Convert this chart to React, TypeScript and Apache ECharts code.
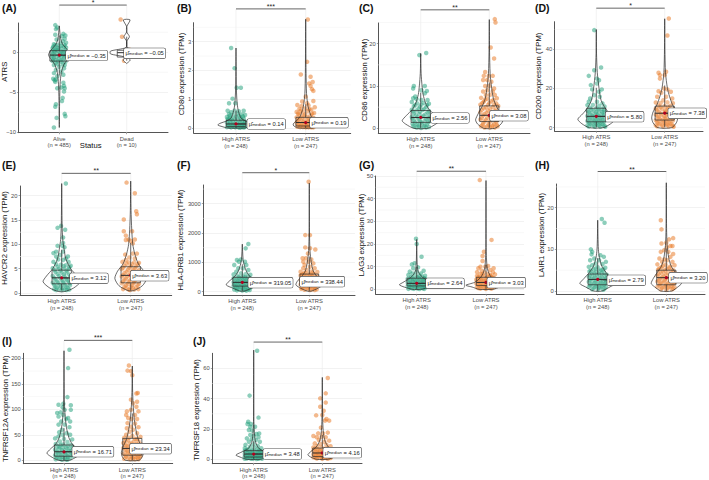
import React, { useEffect, useRef } from "react";
import * as echarts from "echarts";

type P = [number, number];
const GREEN = "#1b9e77";
const ORANGE = "#e8731c";
const FONT = "'Liberation Sans', Arial, sans-serif";

// points: [horizontal jitter in hundredths of a category step, value]
const aHigh: P[] = [[-6,3.4],[-3,3.1],[-5,2.9],[6,2.3],[9,2.1],[4,2],[-6,2.2],[8,1.7],[-4,1.6],[5,1.4],[10,1.2],[-8,1],[2,1.1],[-3,.9],[7,.7],[-10,.5],[-6,.4],[3,.5],[9,.3],[-11,.1],[-2,.2],[5,0],[10,-.2],[-7,-.3],[0,-.4],[-4,-.6],[7,-.7],[-9,-.9],[2,-1],[9,-1.2],[-5,-1.3],[5,-1.5],[-8,-1.6],[0,-1.8],[7,-2],[-5,-2.2],[3,-2.4],[-8,-2.6],[6,-2.8],[-3,-3],[-9,-3.3],[-7,-3.5],[-5,-3.4],[-6,-3.7],[6,-3.8],[7,-4.2],[8,-4.5],[3,-4.4],[-3,-4.5],[7,-4.9],[5,-5.7],[4,-6.1],[-5,-6.5],[-6,-6.8],[8,-7.7],[9,-8],[-4,-8.2],[-8,-9.4],[-10,-.6],[-6,.9],[6,-.3],[-2,-1.1],[-8,.2],[3,.1],[-11,-.4],[10,.6],[-4,.3],[-9,.7],[-3,.6],[3,.8],[8,.9],[-7,.1],[1,-.1],[7,.1],[-10,-.2],[-4,-.2],[3,-.5],[9,-.5],[-8,-.7],[-1,-.8],[5,-.9],[-10,-1.1],[-3,-1.5],[3,-1.2],[8,-1.6],[-6,-1],[1,-.3],[-1,.5]];
const aLow: P[] = [[-9,4.1],[-7,1.95],[-4,-1.05],[3,-.2],[-3,.1],[5,.3],[-2,-.4],[2,-.1]];
const bHigh: P[] = [[-7,2.78],[-2,2.08],[1,1.4],[7,1.4],[-5,1.02],[-10,.86],[-1,.86],[-12,.6],[-7,.55],[-2,.6],[4,.58],[11,.6],[-10,.48],[-4,.45],[2,.5],[8,.47],[13,.45],[-13,.38],[-8,.35],[0,.38],[6,.36],[11,.33],[-11,.27],[-5,.25],[3,.27],[9,.24],[13,.22],[-13,.18],[-8,.15],[-2,.16],[5,.15],[11,.13],[-11,.08],[-5,.07],[1,.08],[8,.06],[13,.05],[-13,.03],[-7,.02],[-1,.02],[5,.01],[10,.02],[-9,.42],[-2,.32],[4,.42],[10,.4],[-12,.31],[-6,.3],[7,.3],[-8,.22],[0,.21],[6,.2],[12,.18],[-11,.13],[-4,.12],[3,.11],[9,.1],[-9,.04],[-3,.04],[3,.03],[7,.02],[12,.02]];
const bLow: P[] = [[3,3.77],[2,2.3],[-7,1.86],[7,1.78],[10,1.6],[5,1.55],[7,1.46],[9,1.35],[11,1.29],[0,1.09],[11,.94],[-5,.92],[2,.86],[-12,.8],[-6,.76],[4,.78],[13,.72],[-9,.66],[-1,.68],[8,.64],[-13,.56],[-4,.55],[3,.58],[12,.52],[-9,.46],[-1,.47],[7,.44],[-13,.37],[-5,.36],[2,.38],[11,.35],[-10,.28],[-2,.27],[6,.26],[13,.24],[-13,.18],[-6,.17],[1,.18],[9,.15],[-11,.1],[-3,.09],[5,.08],[12,.07],[-8,.03],[0,.02],[8,.02],[-7,.6],[5,.65],[-11,.5],[-3,.42],[9,.5],[-8,.32],[4,.32],[10,.28],[-12,.24],[-4,.22],[3,.23],[8,.21],[-9,.14],[-1,.13],[4,.13],[11,.12],[-7,.08],[1,.06],[7,.05],[-12,.04],[-4,.03],[4,.02],[11,.02]];
const cHigh: P[] = [[8,17.8],[-2,17.3],[-10,10],[-11,9.4],[6,10],[1,9],[9,8.8],[6,8.3],[-8,7.5],[-11,7.1],[-6,6.9],[10,6.7],[1,6.7],[-13,6.2],[-5,5.9],[4,6],[12,5.8],[-10,5.2],[-1,5.1],[8,5],[-13,4.4],[-6,4.2],[3,4.3],[12,4.1],[-10,3.5],[-2,3.4],[7,3.3],[-13,2.7],[-5,2.6],[2,2.7],[11,2.5],[-10,1.9],[-1,1.8],[6,1.8],[13,1.7],[-12,1.1],[-5,1],[2,1.1],[9,.9],[-9,.4],[-2,.3],[5,.4],[12,.3],[-8,5.5],[1,5.6],[9,5.5],[-3,4.7],[5,4.6],[-11,4],[-1,3.9],[10,3.8],[-7,3.1],[4,3],[13,3.1],[-12,2.3],[-3,2.1],[8,2.2],[-8,1.4],[1,1.4],[11,1.4],[-3,.7],[6,.7],[-11,.6],[8,.2],[-6,.2],[1,.1]];
const cLow: P[] = [[8,25.8],[9,25],[2,19.1],[7,16.5],[-6,13.3],[-8,12.4],[-1,12.4],[5,12.4],[-3,11.4],[-9,11.4],[3,11],[-6,10],[0,10],[7,9.4],[-3,9],[-9,8.7],[5,8.7],[-5,7.9],[1,7.9],[8,7.9],[-12,7.2],[-3,7],[11,7.1],[-8,6.3],[3,6.4],[-13,5.6],[-2,5.5],[7,5.6],[13,5.3],[-8,4.7],[1,4.6],[10,4.5],[-13,3.8],[-4,3.7],[5,3.8],[-9,3],[0,2.9],[9,2.9],[13,2.8],[-13,2.1],[-5,2],[3,2.1],[11,1.9],[-9,1.2],[-1,1.1],[7,1.1],[-12,.5],[-4,.4],[4,.4],[12,.5],[-6,6.8],[6,6.7],[-10,6],[0,6],[10,5.9],[-5,5],[5,5],[-11,4.4],[-2,4.2],[8,4.1],[-7,3.4],[2,3.4],[11,3.4],[-11,2.5],[-3,2.5],[6,2.4],[-7,1.6],[1,1.6],[10,1.5],[-10,.8],[-1,.7],[5,.7],[11,.8],[-7,.2],[1,.2],[8,.2]];
const dHigh: P[] = [[-3,49.7],[7,30.7],[-11,26.4],[-3,29.3],[1,25],[4,24.2],[-8,21.7],[1,22.5],[-6,19.5],[8,19.5],[4,18.3],[-9,14.9],[-3,16.6],[5,15.8],[1,13.2],[-11,13.2],[9,12.4],[-13,11.5],[-5,11.6],[4,11.2],[12,10.8],[-9,10],[0,9.8],[8,9.6],[-13,8.7],[-4,8.6],[4,8.4],[12,8.2],[-9,7.3],[0,7.1],[8,7.1],[-13,6],[-5,5.9],[4,5.8],[12,5.7],[-9,4.6],[0,4.5],[8,4.5],[-13,3.4],[-4,3.3],[4,3.3],[12,3.1],[-9,2.2],[0,2.1],[8,2],[-13,1.2],[-4,1],[4,1.1],[12,.9],[-7,9.2],[3,9.3],[11,9.1],[-11,7.9],[-1,7.8],[9,7.9],[-6,6.5],[2,6.6],[11,6.4],[-11,5.2],[-2,5.2],[6,5.1],[-6,4],[2,3.9],[10,3.9],[-11,2.8],[-2,2.7],[6,2.7],[-7,1.6],[2,1.5],[10,1.6],[-11,.6],[-2,.5],[6,.5],[13,.5]];
const dLow: P[] = [[6,55.6],[4,47],[-9,28],[2,28.5],[-7,26.8],[0,26.8],[-7,25],[-9,18.6],[-1,20],[9,18.3],[4,19.5],[-5,17.8],[11,14.9],[-11,15.8],[2,15.8],[-2,14],[-13,12.8],[-6,12.6],[4,12.9],[12,12.5],[-9,11.2],[0,11],[8,11.1],[-13,9.7],[-4,9.6],[4,9.4],[13,9.3],[-9,8.1],[0,8],[9,7.9],[-13,6.7],[-5,6.6],[4,6.5],[12,6.4],[-9,5.2],[0,5.1],[8,5],[-13,3.8],[-4,3.8],[4,3.7],[12,3.6],[-9,2.5],[0,2.4],[8,2.3],[-13,1.3],[-4,1.2],[4,1.2],[12,1],[-6,10.4],[5,10.3],[-11,9],[1,8.8],[10,8.8],[-6,7.3],[3,7.2],[12,7.2],[-11,6],[-1,5.9],[8,5.8],[-7,4.5],[2,4.4],[11,4.4],[-11,3.1],[-2,3.1],[6,3],[-7,1.9],[2,1.8],[10,1.8],[-11,.7],[-2,.6],[6,.7],[13,.5]];
const eHigh: P[] = [[6,22.5],[-6,13.4],[-1,13.8],[5,13],[2,11.4],[2,10.3],[-6,9.7],[1,9.7],[4,9.4],[-8,8.5],[2,8.5],[-12,8.2],[-2,7.8],[-8,7.5],[9,7.5],[6,7.1],[-5,6.9],[2,6.8],[10,6.4],[-12,6.4],[-8,5.9],[-1,5.8],[6,5.7],[13,5.6],[-13,5.1],[-4,5],[3,5],[10,4.9],[-9,4.3],[0,4.2],[7,4.2],[-13,3.5],[-4,3.5],[4,3.4],[12,3.4],[-9,2.8],[0,2.7],[8,2.6],[-13,2.1],[-5,2.1],[3,2],[12,2],[-9,1.4],[-1,1.4],[7,1.3],[-11,.8],[-4,.8],[4,.7],[11,.7],[-6,5.4],[3,5.5],[11,5.3],[-10,4.7],[-2,4.6],[7,4.6],[-6,3.9],[3,3.8],[11,3.8],[-11,3.1],[-2,3.1],[6,3],[-7,2.4],[2,2.3],[10,2.4],[-11,1.7],[-3,1.7],[5,1.6],[12,1.6],[-7,1.1],[1,1],[9,1],[-8,.6],[0,.6],[7,.6]];
const eLow: P[] = [[-6,22.7],[6,20.5],[8,16.8],[9,16.2],[-10,15.1],[-10,12.7],[2,12.7],[-7,11.8],[-3,11],[6,11],[-7,10.9],[0,10.7],[3,10.2],[-8,7.9],[3,8.1],[9,8.1],[-2,7.3],[6,7.1],[-7,6.8],[-12,6.4],[-3,6.3],[5,6.3],[12,6.2],[-9,5.6],[0,5.5],[8,5.5],[-13,4.9],[-4,4.8],[4,4.8],[12,4.7],[-9,4.1],[0,4.1],[8,4],[-13,3.4],[-5,3.4],[3,3.3],[12,3.3],[-9,2.7],[-1,2.6],[7,2.6],[-13,2],[-4,1.9],[4,2],[12,1.9],[-9,1.3],[0,1.3],[8,1.2],[-11,.8],[-3,.7],[5,.7],[11,.8],[-6,6],[2,5.9],[10,5.9],[-11,5.2],[-2,5.2],[6,5.1],[-6,4.4],[2,4.4],[10,4.4],[-11,3.7],[-2,3.7],[6,3.7],[-7,3],[1,3],[9,2.9],[-11,2.4],[-3,2.3],[5,2.3],[-7,1.6],[2,1.6],[10,1.6],[-6,1],[3,1],[-1,.6]];
const fHigh: P[] = [[9,1625],[5,1477],[-2,1100],[-8,1080],[-5,1020],[4,1020],[-12,910],[6,910],[-6,800],[1,800],[9,740],[-9,680],[-2,625],[-13,590],[5,600],[12,580],[-7,530],[1,520],[9,510],[-13,460],[-3,455],[5,450],[12,440],[-8,390],[1,385],[9,375],[-13,325],[-4,320],[4,315],[12,310],[-9,260],[0,255],[8,250],[-13,200],[-5,195],[3,190],[12,185],[-9,135],[0,130],[8,125],[-12,75],[-4,70],[4,65],[11,60],[-5,490],[4,490],[-10,420],[-1,415],[7,410],[-6,355],[3,350],[11,345],[-11,290],[-2,285],[6,280],[-7,230],[2,225],[10,220],[-11,165],[-3,160],[5,155],[12,150],[-7,100],[2,95],[9,90],[-8,45],[0,40],[6,35]];
const fLow: P[] = [[-1,3750],[1,1930],[-6,1930],[-6,1510],[1,1480],[9,1440],[-2,1300],[-10,1140],[-5,1140],[3,1100],[-9,1020],[-1,1020],[6,965],[-7,910],[1,850],[8,800],[-9,800],[-4,740],[-13,680],[3,690],[12,670],[-8,620],[-1,610],[7,600],[-13,550],[-4,540],[4,530],[12,520],[-9,470],[0,460],[8,450],[-13,395],[-5,390],[3,380],[12,370],[-9,320],[0,310],[8,300],[-13,245],[-4,240],[4,235],[12,225],[-9,170],[0,165],[8,155],[-12,100],[-4,95],[4,85],[11,80],[-6,640],[5,650],[-11,580],[1,570],[-6,500],[3,495],[10,490],[-11,430],[-2,425],[6,420],[-6,355],[2,350],[10,345],[-11,285],[-2,280],[6,275],[-7,205],[2,200],[10,195],[-11,135],[-2,130],[6,125],[-7,65],[1,60],[8,55]];
const gHigh: P[] = [[-1,22.3],[0,20],[7,14.4],[-3,11.5],[-7,11],[2,9.7],[-5,9.3],[10,8.2],[-10,7.8],[0,7.8],[6,7],[-6,7],[-12,6.3],[-2,6.2],[4,6.1],[12,6],[-8,5.4],[1,5.3],[8,5.3],[-13,4.6],[-4,4.5],[5,4.5],[13,4.4],[-9,3.8],[0,3.7],[9,3.7],[-13,3],[-5,3],[4,2.9],[12,2.9],[-9,2.2],[0,2.2],[8,2.1],[-13,1.5],[-4,1.5],[4,1.4],[12,1.4],[-9,.8],[0,.8],[8,.7],[-12,.2],[-4,.2],[4,.1],[11,.2],[-6,5],[3,5],[11,4.9],[-10,4.2],[-2,4.1],[7,4.1],[-6,3.4],[2,3.3],[10,3.3],[-11,2.6],[-2,2.6],[6,2.5],[-7,1.9],[2,1.8],[10,1.8],[-11,1.1],[-2,1.1],[6,1],[13,1],[-7,.5],[1,.4],[9,.4]];
const gLow: P[] = [[-9,48.2],[8,21.8],[-3,16.6],[-5,14.7],[-5,12.5],[-8,10],[-1,10],[3,10.3],[11,9.3],[-11,9.3],[-6,8.2],[6,8.5],[-13,7.6],[-2,7.4],[10,7.5],[-8,6.8],[3,6.7],[13,6.6],[-13,5.9],[-4,5.8],[7,5.8],[-9,5],[0,5],[11,4.9],[-14,4.2],[-5,4.1],[4,4.1],[13,4],[-10,3.4],[-1,3.3],[8,3.3],[-14,2.6],[-5,2.5],[3,2.5],[12,2.5],[-9,1.8],[0,1.7],[8,1.7],[-13,1],[-4,1],[4,.9],[12,1],[-8,.3],[0,.2],[8,.3],[-5,6.5],[6,6.2],[-11,5.4],[2,5.5],[9,5.2],[-7,4.5],[1,4.5],[9,4.4],[-12,3.7],[-3,3.7],[6,3.6],[-8,2.9],[1,2.9],[10,2.9],[-12,2.1],[-3,2.1],[6,2],[13,1.9],[-7,1.3],[2,1.3],[10,1.3],[-11,.6],[-2,.6],[6,.6]];
const hHigh: P[] = [[6,17.3],[10,16.4],[-10,10],[-8,9.4],[-9,8.8],[4,8.6],[9,8.2],[-5,7.8],[-11,7.4],[2,7.4],[12,7],[-3,6.6],[7,6.5],[-8,6.2],[-13,5.8],[0,5.7],[11,5.6],[-6,5.2],[5,5.1],[-12,4.7],[-2,4.6],[9,4.5],[-8,4.1],[2,4],[13,3.9],[-13,3.4],[-4,3.4],[6,3.3],[-9,2.9],[1,2.8],[11,2.7],[-13,2.2],[-4,2.2],[5,2.1],[13,2.1],[-9,1.6],[0,1.6],[9,1.5],[-13,1],[-4,1],[4,.9],[12,1],[-8,.4],[0,.4],[8,.3],[-3,5.4],[8,5.2],[-10,4.9],[3,4.8],[-5,4.3],[6,4.2],[-11,3.7],[-1,3.7],[10,3.6],[-6,3.1],[4,3.1],[12,3],[-11,2.5],[-2,2.5],[8,2.4],[-6,1.9],[3,1.9],[11,1.8],[-11,1.3],[-2,1.3],[6,1.2],[-6,.7],[2,.7],[10,.6]];
const hLow: P[] = [[-8,17],[-7,14.8],[10,12.7],[4,12.4],[-7,11.4],[0,11.6],[6,10.8],[9,10.8],[1,10.5],[-3,9.8],[-8,9.4],[3,9.4],[10,8.9],[6,8.2],[-10,7.8],[-3,7.6],[1,7.4],[-6,7],[9,7],[-13,6.4],[-1,6.3],[12,6.2],[-7,5.7],[4,5.6],[-12,5.1],[-2,5],[10,5],[-8,4.4],[2,4.3],[13,4.3],[-13,3.7],[-4,3.6],[7,3.6],[-9,3],[0,3],[11,2.9],[-13,2.3],[-4,2.3],[5,2.2],[13,2.2],[-9,1.7],[0,1.6],[9,1.6],[-13,1],[-4,1],[4,1],[12,.9],[-8,.4],[0,.3],[8,.4],[-5,6],[6,5.9],[-10,5.4],[1,5.3],[7,4.9],[-5,4.7],[-11,4.1],[-1,4],[9,4],[-6,3.3],[4,3.3],[12,3.2],[-11,2.6],[-2,2.6],[7,2.5],[-7,2],[3,1.9],[11,1.9],[-10,1.3],[-1,1.3],[7,1.2],[-6,.7],[2,.7],[10,.6]];
const iHigh: P[] = [[8,217],[6,181],[5,124],[10,108],[-8,109],[-1,111],[-2,104],[1,99],[10,99],[-10,93],[-5,94],[-1,89],[-8,86],[6,83],[3,81],[9,76],[-4,76],[1,70],[-8,70],[8,65],[-3,60],[-7,55],[4,53],[-2,50],[9,50],[-8,47],[-13,43],[0,42],[12,41],[-6,37],[5,36],[-12,32],[-1,31],[10,30],[-7,26],[3,25],[13,25],[-13,21],[-3,20],[7,19],[-9,15],[1,15],[11,14],[-13,10],[-4,10],[5,9],[13,9],[-8,5],[1,4],[9,4],[-12,2],[-3,1],[5,1],[-5,30],[5,28],[-10,27],[-2,25],[8,23],[-7,22],[2,20],[11,19],[-11,17],[-3,16],[5,15],[13,15],[-7,12],[2,11],[10,11],[-11,7],[-2,7],[6,6],[-6,3],[3,2]];
const iLow: P[] = [[-5,186],[-7,176],[-2,175],[0,167],[8,132],[6,131],[-2,119],[7,115],[1,112],[-8,96],[6,105],[-2,99],[9,96],[-9,89],[4,89],[-6,83],[-1,81],[7,81],[-7,73],[4,72],[-2,66],[9,65],[-8,63],[1,60],[-4,56],[7,53],[-9,50],[0,48],[12,46],[-12,44],[4,42],[-6,39],[9,37],[-13,34],[-1,33],[13,31],[-8,28],[4,27],[-13,24],[-3,22],[9,21],[-8,18],[1,17],[13,16],[-13,13],[-4,12],[6,11],[12,9],[-9,7],[0,6],[8,5],[-12,3],[-3,2],[4,2],[-5,44],[7,42],[-10,38],[2,37],[-4,33],[6,32],[-10,30],[1,29],[10,28],[-6,25],[3,24],[12,23],[-10,20],[-1,20],[6,18],[-6,15],[3,14],[10,13],[-10,10],[-1,9],[5,7],[11,6],[-6,4],[1,3],[9,2]];
const jHigh: P[] = [[5,71.6],[-6,42],[7,27.5],[-8,24.8],[-9,23.3],[-4,23.3],[-5,21.5],[2,21.5],[-7,19.3],[-2,18.9],[8,17],[4,16.7],[-5,16],[0,15.4],[-10,13.8],[7,14.5],[-3,13.2],[3,12.7],[-7,11.6],[9,11.6],[0,10],[-12,9.5],[6,8.8],[-5,8.4],[-13,7.4],[1,7.6],[11,7.3],[-8,6.6],[5,6.5],[-13,5.6],[-3,5.5],[9,5.4],[-8,4.6],[2,4.5],[13,4.4],[-13,3.6],[-4,3.5],[6,3.5],[-9,2.7],[0,2.6],[10,2.6],[-13,1.8],[-5,1.7],[4,1.7],[12,1.7],[-9,.9],[-1,.9],[7,.8],[-13,.3],[-4,.3],[4,.2],[12,.3],[-10,6.2],[-2,6],[8,6],[-6,5],[4,5],[11,4.9],[-10,4.1],[-1,4],[8,3.9],[-6,3.1],[3,3.1],[12,3],[-11,2.2],[-2,2.2],[6,2.1],[-7,1.3],[2,1.3],[10,1.2],[-10,.6],[-1,.5],[7,.4]];
const jLow: P[] = [[8,53.6],[5,43.5],[-3,40.2],[5,37.4],[-3,34.7],[2,32],[-9,29],[0,29.2],[6,26.6],[10,25.5],[4,25.5],[-2,20.9],[-6,17.1],[8,17.6],[1,17.1],[-13,15.4],[-1,14.9],[5,14.5],[-8,14.5],[-5,12.7],[10,12.3],[3,11.6],[-11,10.5],[-2,10],[6,9.5],[-7,8.8],[12,8.6],[-13,7.8],[-1,7.7],[8,7.4],[-7,6.6],[3,6.5],[13,6.3],[-13,5.6],[-3,5.5],[8,5.3],[-8,4.5],[1,4.4],[12,4.3],[-13,3.4],[-4,3.4],[5,3.3],[-9,2.4],[0,2.4],[9,2.3],[-13,1.4],[-4,1.4],[4,1.3],[12,1.4],[-8,.5],[0,.4],[8,.4],[-10,7.1],[4,7],[-4,6.1],[10,6],[-10,5],[0,5],[6,4.8],[-6,4],[4,3.9],[12,3.7],[-10,3],[-1,2.9],[7,2.8],[-6,2],[2,1.9],[10,1.9],[-10,1],[-1,1],[6,.9],[12,.8]];

// violin outlines: [value, half-width in category steps]
const vAHigh: P[] = [[-9.4,0],[-6,.005],[-4,.012],[-2.5,.03],[-1.5,.07],[-.8,.13],[-.3,.16],[.3,.12],[1,.05],[1.7,.02],[3.3,0]];
const vALow: P[] = [[-1.4,0],[-1,.05],[-.6,.03],[-.2,.24],[.15,.24],[.6,.01],[1.35,0],[1.95,.04],[2.55,0],[3.2,0],[4.05,.05]];
const vBHigh: P[] = [[0,.12],[.05,.2],[.1,.26],[.15,.24],[.25,.13],[.35,.07],[.5,.045],[.7,.025],[1,.012],[1.5,.004],[2.78,0]];
const vBLow: P[] = [[0,.1],[.07,.17],[.14,.18],[.25,.13],[.4,.08],[.6,.05],[.8,.03],[1.2,.012],[1.9,.005],[3.78,0]];
const vCHigh: P[] = [[0,.1],[1,.22],[1.8,.27],[3,.21],[4.5,.12],[6,.07],[8,.035],[10,.02],[13,.006],[17.7,0]];
const vCLow: P[] = [[0,.08],[1,.17],[2,.2],[3.5,.16],[5,.11],[7,.06],[10,.03],[13,.012],[18,.004],[25.7,0]];
const vDHigh: P[] = [[0,.1],[2,.21],[4.3,.27],[7,.2],[10,.13],[14,.07],[20,.04],[28,.015],[38,.003],[50,0]];
const vDLow: P[] = [[0,.1],[2.5,.17],[5,.19],[8,.17],[12,.11],[16,.07],[20,.04],[28,.012],[40,.003],[55.5,0]];
const vEHigh: P[] = [[.3,.04],[1,.17],[2.3,.27],[3.5,.22],[5,.13],[7,.06],[9,.035],[11,.015],[14,.006],[22.5,0]];
const vELow: P[] = [[.5,.04],[1.5,.17],[3,.23],[4.5,.19],[6,.11],[8,.06],[10,.03],[13,.015],[17,.005],[23,0]];
const vFHigh: P[] = [[20,.03],[120,.14],[230,.24],[350,.2],[500,.12],[700,.06],[900,.03],[1100,.012],[1620,0]];
const vFLow: P[] = [[20,.03],[120,.13],[230,.2],[350,.18],[500,.12],[700,.06],[1000,.03],[1400,.01],[2000,.003],[3700,0]];
const vGHigh: P[] = [[0,.06],[1,.18],[2,.25],[3,.2],[4.5,.12],[6,.06],[8,.02],[12,.006],[22,0]];
const vGLow: P[] = [[0,.1],[1,.2],[1.8,.29],[3,.17],[4.5,.1],[6,.06],[8,.03],[10,.015],[15,.005],[22,.002],[48,0]];
const vHHigh: P[] = [[0,.06],[1,.18],[1.8,.26],[3,.2],[4.5,.12],[6,.06],[8,.025],[10,.01],[13,.004],[17,0]];
const vHLow: P[] = [[0,.08],[1,.17],[1.8,.22],[3,.19],[4.5,.13],[6,.07],[8,.035],[11,.012],[15,.004],[26,0]];
const vIHigh: P[] = [[0,.08],[8,.2],[14,.25],[22,.2],[32,.12],[45,.07],[65,.035],[90,.015],[120,.005],[215,0]];
const vILow: P[] = [[0,.1],[8,.15],[15,.16],[25,.14],[40,.09],[55,.06],[80,.03],[110,.012],[140,.004],[185,0]];
const vJHigh: P[] = [[0,.1],[1.5,.2],[2.8,.26],[4.5,.19],[7,.08],[11,.03],[16,.012],[25,.003],[40,.001],[72,0]];
const vJLow: P[] = [[0,.08],[1.5,.17],[3,.21],[5,.17],[8,.09],[12,.04],[17,.017],[25,.006],[40,.002],[54,0]];

const medians = [[-.35,-.05],[.14,.19],[2.56,3.08],[5.8,7.38],[3.12,3.63],[319.05,338.44],[2.64,3.03],[2.79,3.2],[16.71,23.34],[3.48,4.16]];
const medianText = [["\u22120.35","\u22120.05"],["0.14","0.19"],["2.56","3.08"],["5.80","7.38"],["3.12","3.63"],["319.05","338.44"],["2.64","3.03"],["2.79","3.20"],["16.71","23.34"],["3.48","4.16"]];
// box: [low whisker, q1, q3, high whisker]
const boxes = [
  [[-2.9,-1.1,.2,2.1],[-1.05,-.6,.25,1.95]],
  [[0,.05,.27,.6],[0,.07,.37,.82]],
  [[.1,1.4,4.2,8.4],[.1,1.6,5.3,10.8]],
  [[.3,3,9.9,20.3],[.3,3.9,11,21.5]],
  [[.5,1.9,4.7,8.9],[.5,2.1,5.4,10.3]],
  [[20,190,490,935],[20,200,600,1200]],
  [[0,1.5,4.9,9.9],[0,1.7,5.3,10.8]],
  [[0,1.5,4.08,7.9],[0,1.5,5,10.2]],
  [[0,8,30,63],[0,10,43,92]],
  [[0,1.5,5.7,12],[0,1.8,7.4,16]],
];
const categoryLabels = [["Alive\n(n = 485)","Dead\n(n = 10)"],...Array(9).fill(["High ATRS\n(n = 248)","Low ATRS\n(n = 247)"])];
const panelLetters = ["(A)","(B)","(C)","(D)","(E)","(F)","(G)","(H)","(I)","(J)"];
const yNames = ["ATRS","CD80 expression (TPM)","CD86 expression (TPM)","CD200 expression (TPM)","HAVCR2 expression (TPM)","HLA-DRB1 expression (TPM)","LAG3 expression (TPM)","LAIR1 expression (TPM)","TNFRSF12A expression (TPM)","TNFRSF18 expression (TPM)"];
const stars = ["*","***","**","*","**","*","**","**","***","**"];
const majors = [[-10,-5,0],[0,1,2,3],[0,10,20],[0,20,40],[0,5,10,15,20],[0,1000,2000,3000],[0,10,20,30,40,50],[0,10,20],[0,50,100,150,200],[0,20,40,60]];
const minors = [[-7.5,-2.5,2.5],[.5,1.5,2.5,3.5],[5,15,25],[10,30,50],[2.5,7.5,12.5,17.5],[500,1500,2500,3500],[5,15,25,35,45],[5,15,25],[25,75,125,175],[10,30,50]];
const points = [[aHigh,aLow],[bHigh,bLow],[cHigh,cLow],[dHigh,dLow],[eHigh,eLow],[fHigh,fLow],[gHigh,gLow],[hHigh,hLow],[iHigh,iLow],[jHigh,jLow]];
const violins = [[vAHigh,vALow],[vBHigh,vBLow],[vCHigh,vCLow],[vDHigh,vDLow],[vEHigh,vELow],[vFHigh,vFLow],[vGHigh,vGLow],[vHHigh,vHLow],[vIHigh,vILow],[vJHigh,vJLow]];

// layout in pixels: axis box, category centres, y range, bracket level, y title, letter, stat labels [left, centreY]
const layout = [
  {l:18.5,r:168,t:23,b:132.7,c:[59.3,126.7],y:[-10.05,3.66],sig:5.9,nx:4,ny:71.7,lx:2,ly:8,lab:[[66,55.5],[124,53.3]]},
  {l:193.7,r:350.7,t:22.7,b:133,c:[236,305.7],y:[-.174,3.66],sig:4.14,nx:181,ny:74,lx:177,ly:8,lab:[[247.3,124],[310,122.7]]},
  {l:378.3,r:530,t:22.7,b:133,c:[420.7,489.3],y:[-1.11,24.96],sig:28,nx:364,ny:80,lx:359,ly:8,lab:[[431,118],[490,115.7]]},
  {l:554.7,r:703,t:21.7,b:131.3,c:[596.3,664.7],y:[-1.84,54],sig:60.9,nx:538.3,ny:76,lx:535,ly:8,lab:[[605.7,116.7],[668.3,113.3]]},
  {l:20,r:171.7,t:186,b:295,c:[61.7,130.7],y:[-.41,22],sig:24.6,nx:4,ny:238,lx:2,ly:165,lab:[[70,278.3],[130.7,275.7]]},
  {l:203.3,r:355,t:185,b:295,c:[242.3,309.3],y:[-113,3638],sig:4057,nx:180.7,ny:240,lx:177,ly:165,lab:[[248.3,282.7],[300,281.7]]},
  {l:375.7,r:524,t:176,b:294.3,c:[416.7,486],y:[-2.2,50],sig:52.1,nx:361,ny:235,lx:359,ly:165,lab:[[426,283.3],[487.3,282.7]]},
  {l:556.3,r:705,t:184,b:294.3,c:[597.7,666.3],y:[-.79,25.7],sig:28.7,nx:541.3,ny:235,lx:535,ly:165,lab:[[607.3,280.3],[669,277.7]]},
  {l:23.3,r:172.7,t:353.3,b:463.7,c:[64,132.3],y:[-6.7,210],sig:235.4,nx:5,ny:408.7,lx:2,ly:341,lab:[[72.3,451.7],[130,448.7]]},
  {l:212.3,r:362,t:353.3,b:463.7,c:[253.7,322.3],y:[-2.9,69.9],sig:77.3,nx:196.7,ny:410,lx:193,ly:341,lab:[[263.3,454],[323.3,452.7]]},
];

const BOX_HALF = 0.14;
const INK = "#2b2b2b";

function buildOption() {
  const grid: any[] = [], xAxis: any[] = [], yAxis: any[] = [], series: any[] = [], graphic: any[] = [];
  layout.forEach((p, i) => {
    const step = p.c[1] - p.c[0];
    const xMin = 1 - (p.c[0] - p.l) / step;
    const xMax = 2 + (p.r - p.c[1]) / step;
    grid.push({ left: p.l, top: p.t, width: p.r - p.l, height: p.b - p.t, containLabel: false });
    xAxis.push({
      type: "value", gridIndex: i, min: xMin, max: xMax,
      axisLine: { show: true, onZero: false, lineStyle: { color: "#555", width: 1 } },
      axisTick: { show: true, length: 1.5, customValues: [1, 2], lineStyle: { color: "#666", width: .6 } },
      axisLabel: { margin: 2.5, customValues: [1, 2], color: "#4d4d4d", fontSize: 5.8, fontFamily: FONT, lineHeight: 6.8,
        formatter: (v: number) => categoryLabels[i][Math.round(v) - 1] },
      splitLine: { show: false },
    });
    yAxis.push({
      type: "value", gridIndex: i, min: p.y[0], max: p.y[1],
      axisLine: { show: true, onZero: false, lineStyle: { color: "#555", width: 1 } },
      axisTick: { show: true, length: 1.5, customValues: majors[i], lineStyle: { color: "#666", width: .6 } },
      axisLabel: { margin: 2.5, customValues: majors[i], color: "#4d4d4d", fontSize: 5.8, fontFamily: FONT,
        formatter: (v: number) => String(v).replace("-", "\u2212") },
      splitLine: { show: true, lineStyle: { color: "#ececec", width: .7 } },
    });
    // minor gridlines and category gridlines reaching the bracket
    series.push({
      type: "custom", xAxisIndex: i, yAxisIndex: i, coordinateSystem: "cartesian2d", silent: true, clip: false, z: 1,
      data: minors[i].map((v) => [xMin, v]),
      encode: { x: 0, y: 1 },
      renderItem: (_: any, api: any) => {
        const a = api.coord([xMin, api.value(1)]), b = api.coord([xMax, api.value(1)]);
        return { type: "line", shape: { x1: a[0], y1: a[1], x2: b[0], y2: b[1] }, style: { stroke: "#f3f3f3", lineWidth: .6 } };
      },
    });
    series.push({
      type: "custom", xAxisIndex: i, yAxisIndex: i, coordinateSystem: "cartesian2d", silent: true, clip: false, z: 1,
      data: [[1, p.sig], [2, p.sig]],
      encode: { x: 0, y: 1 },
      renderItem: (_: any, api: any) => {
        const a = api.coord([api.value(0), p.sig]), b = api.coord([api.value(0), p.y[0]]);
        return { type: "line", shape: { x1: a[0], y1: a[1], x2: b[0], y2: b[1] }, style: { stroke: "#ececec", lineWidth: .7 } };
      },
    });
    [0, 1].forEach((g) => {
      series.push({
        type: "scatter", xAxisIndex: i, yAxisIndex: i, silent: true, clip: false, z: 2, symbolSize: 4.5,
        itemStyle: { color: g === 0 ? GREEN : ORANGE, opacity: .5, borderWidth: 0 },
        data: points[i][g].map(([dx, v]) => [g + 1 + dx / 100, v]),
      });
    });
    series.push({
      type: "custom", xAxisIndex: i, yAxisIndex: i, coordinateSystem: "cartesian2d", silent: true, clip: false, z: 3,
      data: [[1, medians[i][0]], [2, medians[i][1]]],
      encode: { x: 0, y: 1 },
      renderItem: (params: any, api: any) => {
        const g = params.dataIndex, cx = g + 1;
        const v = violins[i][g];
        const right = v.map(([y, w]) => api.coord([cx + w, y]));
        const left = v.map(([y, w]) => api.coord([cx - w, y])).reverse();
        const [wl, q1, q3, wh] = boxes[i][g];
        const med = medians[i][g];
        const tl = api.coord([cx - BOX_HALF, q3]), br = api.coord([cx + BOX_HALF, q1]);
        const ml = api.coord([cx - BOX_HALF, med]), mr = api.coord([cx + BOX_HALF, med]);
        const dot = api.coord([cx, med]);
        const wTop = api.coord([cx, wh]), wBot = api.coord([cx, wl]);
        const q3p = api.coord([cx, q3]), q1p = api.coord([cx, q1]);
        const [lx, ly] = p.lab[g];
        const line = (x1: number, y1: number, x2: number, y2: number, w = .7) => ({
          type: "line", shape: { x1, y1, x2, y2 }, style: { stroke: INK, lineWidth: w },
        });
        return {
          type: "group",
          children: [
            { type: "polygon", shape: { points: [...right, ...left], smooth: .25 }, style: { fill: g === 1 && i === 0 ? "#fff" : "rgba(255,255,255,0.1)", stroke: INK, lineWidth: .7 } },
            line(wTop[0], wTop[1], q3p[0], q3p[1]),
            line(q1p[0], q1p[1], wBot[0], wBot[1]),
            { type: "rect", shape: { x: tl[0], y: tl[1], width: br[0] - tl[0], height: br[1] - tl[1] }, style: { fill: "none", stroke: INK, lineWidth: .7 } },
            line(ml[0], ml[1], mr[0], mr[1], 1),
            line(dot[0], dot[1], lx + 1, ly),
            { type: "circle", shape: { cx: dot[0], cy: dot[1], r: 1.6 }, style: { fill: "#b0001e" } },
            { type: "text", x: lx, y: ly, style: {
              text: `{m|\u03BC\u0302}{s|median}{m| = ${medianText[i][g]}}`,
              rich: { m: { fontSize: 5.8, fontFamily: FONT, fill: "#222", fontWeight: 400 }, s: { fontSize: 4.2, fontFamily: FONT, fill: "#222" } },
              verticalAlign: "middle", align: "left",
              backgroundColor: "#fff", borderColor: "#4a4a4a", borderWidth: .6, borderRadius: 1.5, padding: [2, 1.5, 2, 1.5],
            } },
          ],
        };
      },
    });
    // significance bracket
    series.push({
      type: "custom", xAxisIndex: i, yAxisIndex: i, coordinateSystem: "cartesian2d", silent: true, clip: false, z: 4,
      data: [[1, p.sig]],
      encode: { x: 0, y: 1 },
      renderItem: (_: any, api: any) => {
        const a = api.coord([1, p.sig]), b = api.coord([2, p.sig]);
        return { type: "group", children: [
          { type: "line", shape: { x1: a[0], y1: a[1], x2: b[0], y2: b[1] }, style: { stroke: "#555", lineWidth: .9 } },
          { type: "text", x: (a[0] + b[0]) / 2, y: a[1] - 2.5, style: { text: stars[i], align: "center", verticalAlign: "middle", fontSize: 7, fontFamily: FONT, fill: "#222" } },
        ] };
      },
    });
    graphic.push({ type: "text", x: p.nx, y: p.ny, rotation: Math.PI / 2, style: { text: yNames[i], align: "center", verticalAlign: "middle", fontSize: 7.7, fontFamily: FONT, fill: "#111" } });
    graphic.push({ type: "text", x: p.lx, y: p.ly, style: { text: panelLetters[i], align: "left", verticalAlign: "middle", fontSize: 10.5, fontWeight: "bold", fontFamily: FONT, fill: "#111" } });
  });
  graphic.push({ type: "text", x: 90.7, y: 145.7, style: { text: "Status", align: "center", verticalAlign: "middle", fontSize: 7.7, fontFamily: FONT, fill: "#111" } });
  return { animation: false, backgroundColor: "#fff", grid, xAxis, yAxis, series, graphic };
}

export default function App() {
  const ref = useRef<HTMLDivElement>(null);
  useEffect(() => {
    const chart = echarts.init(ref.current!, undefined, { renderer: "svg" });
    chart.setOption(buildOption() as any);
    return () => chart.dispose();
  }, []);
  return <div ref={ref} style={{ position: "fixed", left: 0, top: 0, width: 709, height: 480 }} />;
}
